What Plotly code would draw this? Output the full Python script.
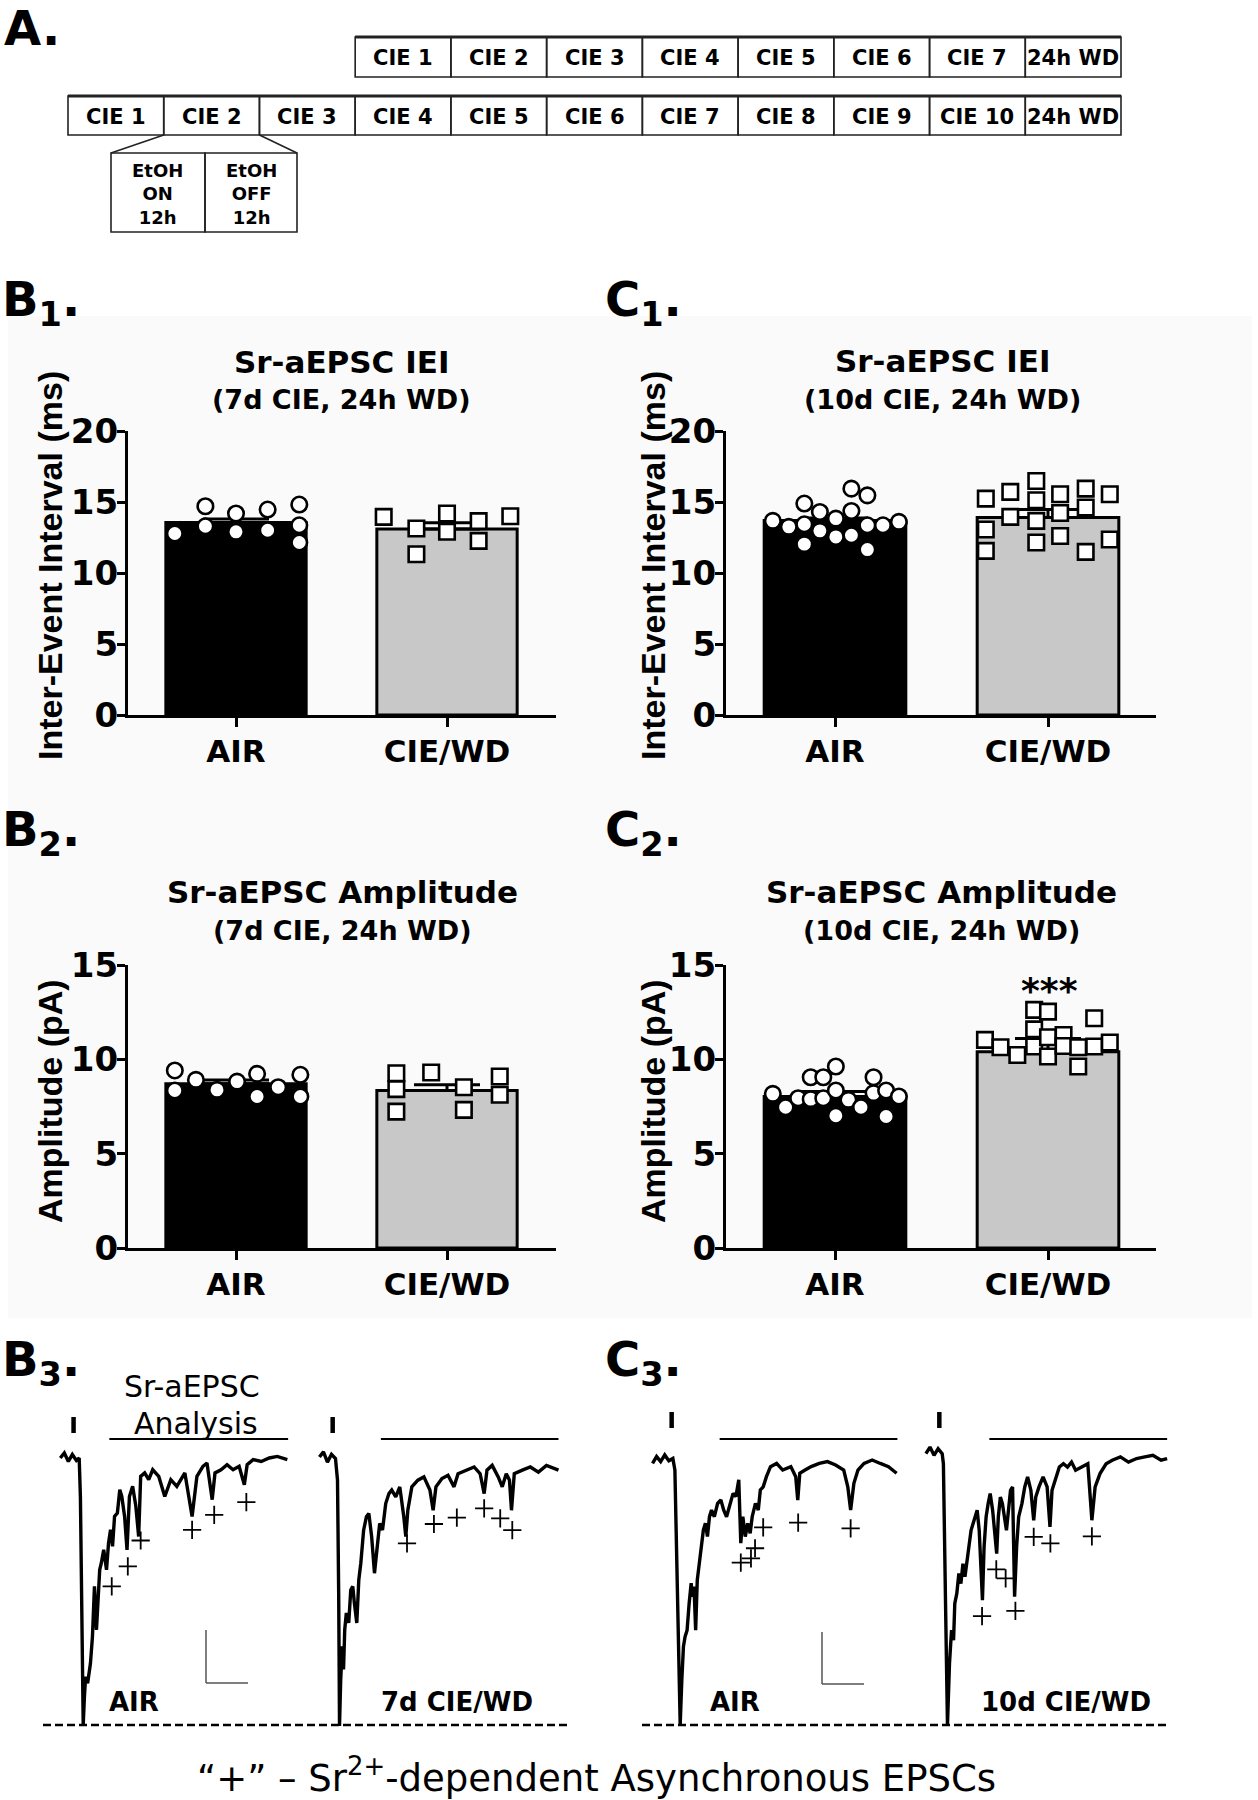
import plotly.graph_objects as go

W, H = 1258, 1800
FONT = "DejaVu Sans"
ARIAL = "Liberation Sans"

# ---------------- data ----------------
groups = ["AIR", "CIE/WD"]

timeline_7d = ["CIE 1", "CIE 2", "CIE 3", "CIE 4", "CIE 5", "CIE 6", "CIE 7", "24h WD"]
timeline_10d = ["CIE 1", "CIE 2", "CIE 3", "CIE 4", "CIE 5", "CIE 6", "CIE 7",
                "CIE 8", "CIE 9", "CIE 10", "24h WD"]
cycle_parts = ["EtOH<br>ON<br>12h", "EtOH<br>OFF<br>12h"]

# B1: IEI (ms), 7d CIE
b1_air = [12.78, 14.70, 13.29, 14.19, 12.90, 14.47, 13.01, 14.82, 13.36, 12.15]
b1_cie = [13.95, 13.13, 11.32, 14.19, 12.90, 13.65, 12.26, 14.00]
b1_mean = [13.55, 13.10]
b1_sem = [0.25, 0.44]

# C1: IEI (ms), 10d CIE
c1_air = [13.67, 13.25, 14.89, 13.43, 12.03, 14.30, 12.97, 13.83, 12.54,
          15.94, 14.37, 12.66, 15.47, 13.36, 11.65, 13.36, 13.60]
c1_cie = [15.24, 13.06, 11.56, 15.71, 13.95, 16.48, 15.12, 13.67, 12.15,
          15.55, 14.23, 12.61, 15.94, 14.61, 11.49, 15.55, 12.36]
c1_mean = [13.70, 13.90]
c1_sem = [0.18, 0.58]

# B2: amplitude (pA), 7d CIE
b2_air = [9.41, 8.35, 8.91, 8.38, 8.82, 9.23, 8.03, 8.52, 9.18, 8.03]
b2_cie = [9.26, 8.42, 7.23, 9.30, 8.52, 7.32, 9.09, 8.12]
b2_mean = [8.70, 8.35]
b2_sem = [0.21, 0.30]

# C2: amplitude (pA), 10d CIE
c2_air = [8.17, 7.46, 7.94, 9.05, 7.89, 9.05, 7.94, 9.62, 8.35, 7.01,
          7.85, 7.46, 9.05, 8.21, 8.35, 6.97, 8.03]
c2_cie = [11.03, 10.64, 10.23, 12.62, 11.59, 10.68, 12.53, 11.17, 10.15,
          11.29, 10.71, 10.64, 9.62, 12.18, 10.68, 10.89]
c2_mean = [8.03, 10.40]
c2_sem = [0.26, 0.70]

# horizontal scatter offsets of the individual points (positions, not values)
b1_air_dx = [-0.29, -0.145, -0.145, 0.0, 0.0, 0.15, 0.15, 0.30, 0.30, 0.30]
b1_cie_dx = [-0.30, -0.145, -0.145, 0.0, 0.0, 0.15, 0.15, 0.30]
c1_air_dx = [-0.292, -0.217, -0.144, -0.144, -0.144, -0.071, -0.071, 0.004, 0.004,
             0.077, 0.077, 0.077, 0.152, 0.152, 0.152, 0.225, 0.30]
c1_cie_dx = [-0.292, -0.292, -0.292, -0.177, -0.177, -0.055, -0.055, -0.055, -0.055,
             0.057, 0.057, 0.057, 0.177, 0.177, 0.177, 0.29, 0.29]
b2_air_dx = [-0.29, -0.29, -0.19, -0.09, 0.005, 0.10, 0.10, 0.20, 0.305, 0.305]
b2_cie_dx = [-0.24, -0.24, -0.24, -0.075, 0.08, 0.08, 0.25, 0.25]
c2_air_dx = [-0.292, -0.232, -0.173, -0.114, -0.114, -0.055, -0.055, 0.004, 0.004,
             0.004, 0.063, 0.122, 0.181, 0.181, 0.24, 0.24, 0.30]
c2_cie_dx = [-0.296, -0.223, -0.144, -0.065, -0.065, -0.065, 0.0, 0.0, 0.0,
             0.073, 0.073, 0.142, 0.142, 0.217, 0.217, 0.29]

# Example traces: time from stimulus (ms) and current (% of peak)
b3_air_t = [-50, -40, -30, -20, -10, -3, 0, 3, 5, 7, 10, 13, 18, 25, 30, 35, 40, 43, 48, 52,
            58, 65, 70, 75, 80, 85, 92, 98, 103, 110, 116, 122, 130, 138, 145, 150, 160,
            170, 180, 195, 210, 225, 240, 260, 278, 290, 305, 315, 328, 335, 350, 365,
            380, 395, 408, 415, 430, 450, 470, 490, 515]
b3_air_i = [0, 1.9, -1.3, 1.3, -0.9, 0, -14.4, -64.4, -91.9, -100, -89.4, -81.9, -84.4,
            -76.9, -66.9, -48.1, -64.4, -56.9, -41.9, -39.4, -34.4, -41.9, -31.9, -26.9,
            -33.1, -21.9, -20.6, -11.9, -14.4, -21.9, -34.4, -14.4, -10.6, -18.1, -29.4,
            -6.9, -5.6, -8.1, -4.4, -6.9, -14.4, -8.1, -10.6, -5.6, -21.9, -6.9, -3.1,
            -1.9, -15.6, -5.6, -4.4, -2.5, -4.4, -3.1, -10.0, -2.5, -0.6, -1.3, 0, 0.6, -0.6]
b3_cie_t = [-45, -35, -25, -15, -5, 0, 3, 5, 8, 12, 15, 18, 22, 28, 33, 38, 42, 48, 53, 58,
            65, 72, 78, 85, 92, 98, 105, 112, 120, 128, 135, 145, 155, 165, 170, 175, 185,
            200, 215, 230, 238, 245, 260, 275, 290, 300, 320, 340, 355, 365, 372, 385,
            400, 410, 420, 428, 433, 440, 460, 480, 500, 520, 550]
b3_cie_i = [0, 1.9, -1.9, 1.0, -0.6, -8.6, -51.9, -100, -82.7, -70.4, -79.0, -64.2, -58.0,
            -61.7, -49.4, -48.1, -54.3, -61.7, -45.7, -39.5, -27.2, -22.2, -21.0, -29.6,
            -43.2, -33.3, -24.7, -27.2, -17.3, -13.6, -12.3, -14.8, -11.1, -22.2, -29.6,
            -19.8, -11.1, -8.6, -7.4, -12.3, -19.8, -11.1, -8.0, -6.8, -11.1, -6.2, -4.9,
            -3.7, -6.2, -13.6, -4.9, -3.1, -7.4, -11.1, -6.2, -8.6, -19.8, -6.2, -4.9,
            -3.7, -5.6, -3.1, -4.9]
c3_air_t = [-55, -45, -35, -25, -15, -5, 0, 5, 10, 13, 17, 21, 25, 30, 35, 40, 43, 47, 51,
            55, 60, 65, 70, 75, 80, 85, 90, 97, 105, 113, 120, 127, 135, 143, 150, 157,
            162, 167, 173, 179, 185, 190, 198, 205, 210, 217, 225, 235, 250, 265, 285,
            297, 302, 307, 320, 335, 355, 375, 395, 415, 425, 432, 440, 450, 465, 485,
            505, 525, 545]
c3_air_i = [-1.3, 1.3, -0.6, 1.9, -0.3, 0.6, -3.8, -39.0, -83.0, -100, -83.0, -70.4, -66.7,
            -64.2, -54.1, -46.5, -51.6, -47.8, -64.2, -45.3, -39.0, -31.4, -26.4, -23.9,
            -28.9, -21.4, -18.9, -21.4, -16.4, -15.1, -18.9, -21.4, -16.4, -12.6, -13.8,
            -7.5, -31.4, -21.4, -28.9, -23.9, -27.7, -21.4, -16.4, -18.9, -11.3, -10.1,
            -6.3, -2.5, -1.3, -3.8, -2.5, -6.3, -15.1, -5.0, -3.8, -2.5, -1.3, -0.6, -1.9,
            -3.8, -10.1, -18.9, -8.8, -3.8, -1.3, 0, -1.3, -2.5, -5.0]
c3_cie_t = [-43, -33, -23, -13, -3, 0, 5, 10, 15, 20, 25, 28, 33, 38, 43, 48, 53, 58, 63,
            68, 73, 78, 83, 88, 93, 96, 100, 105, 110, 115, 121, 127, 131, 135, 140, 145,
            150, 155, 160, 165, 170, 175, 180, 185, 193, 200, 207, 215, 222, 227, 235,
            245, 255, 262, 267, 275, 285, 295, 305, 315, 325, 340, 355, 365, 373, 385,
            400, 415, 435, 455, 475, 495, 515, 535, 550]
c3_cie_i = [-0.6, 1.8, -1.2, 1.2, -0.6, -4.3, -53.0, -100, -77.4, -65.2, -68.9, -55.5,
            -51.8, -44.5, -48.2, -40.9, -45.7, -39.6, -33.5, -28.7, -26.2, -23.8, -21.3,
            -28.7, -43.3, -54.3, -34.8, -23.8, -18.9, -15.2, -21.3, -31.1, -37.2, -23.8,
            -16.5, -18.9, -23.8, -28.7, -21.3, -14.0, -12.8, -53.0, -34.8, -23.8, -18.9,
            -12.8, -9.1, -14.0, -25.0, -16.5, -12.8, -9.1, -12.8, -27.4, -14.0, -10.4,
            -5.5, -4.3, -5.5, -3.7, -6.7, -5.5, -4.3, -25.0, -12.8, -7.9, -4.3, -3.0,
            -1.8, -3.7, -2.4, -1.8, -1.2, -3.0, -2.4]

# "+" marks of detected asynchronous events (time, current)
b3_air_ev_t = [78, 118, 150, 278, 333, 413]
b3_air_ev_i = [-48.1, -40.6, -30.9, -26.9, -21.3, -16.5]
b3_cie_ev_t = [173, 240, 297, 365, 405, 435]
b3_cie_ev_i = [-32.1, -24.9, -22.5, -19.1, -22.8, -27.2]
c3_air_ev_t = [162, 187, 197, 217, 303, 432]
c3_air_ev_i = [-38.7, -37.1, -33.3, -25.4, -23.6, -25.8]
c3_cie_ev_t = [95, 130, 153, 177, 222, 263, 365]
c3_cie_ev_i = [-60.1, -43.0, -46.3, -58.2, -31.1, -33.5, -30.9]

# analysis windows (ms) and stimulus times (ms)
b3_air_win = [72, 517]
b3_cie_win = [108, 550]
c3_air_win = [110, 547]
c3_cie_win = [113, 550]
stim_marks = [-17, -12, -8, -10]


# ---------------- helpers ----------------
def fx(px):
    return px / W


def fy(py):
    return 1 - py / H


fig = go.Figure()
annotations = []
shapes = []

# faint panel background
shapes.append(dict(type="rect", xref="paper", yref="paper", x0=fx(8), x1=fx(1252),
                   y0=fy(1318), y1=fy(316), fillcolor="#fafafa", line=dict(width=0),
                   layer="below"))


def add_text(x, y, text, size, bold=True, xanchor="center", yanchor="middle",
             family=FONT, angle=0):
    annotations.append(dict(
        x=fx(x), y=fy(y), xref="paper", yref="paper", text=text, showarrow=False,
        xanchor=xanchor, yanchor=yanchor, textangle=angle,
        font=dict(family=family, size=size, color="black",
                  weight="bold" if bold else "normal")))


def bar_panel(idx, xl, xr, yb, yt, ymax, ytick, centers, vals_air, vals_cie,
              dx_air, dx_cie, means, sems):
    sx = "" if idx == 1 else str(idx)
    unit = centers[1] - centers[0]
    xrange = [-(centers[0] - xl) / unit, 1 + (xr - centers[1]) / unit]
    fig.add_trace(go.Bar(
        x=[0, 1], y=means, width=0.665,
        marker=dict(color=["black", "#c8c8c8"], line=dict(color="black", width=3)),
        error_y=dict(type="data", symmetric=False, array=sems, arrayminus=[0, 0],
                     color="black", thickness=3, width=33),
        xaxis="x" + sx, yaxis="y" + sx, showlegend=False, hoverinfo="skip"))
    fig.add_trace(go.Scatter(
        x=[0 + d for d in dx_air], y=vals_air, mode="markers",
        marker=dict(symbol="circle", size=15.5, color="white",
                    line=dict(color="black", width=2.6)),
        xaxis="x" + sx, yaxis="y" + sx, showlegend=False, cliponaxis=False))
    fig.add_trace(go.Scatter(
        x=[1 + d for d in dx_cie], y=vals_cie, mode="markers",
        marker=dict(symbol="square", size=15.5, color="white",
                    line=dict(color="black", width=2.6)),
        xaxis="x" + sx, yaxis="y" + sx, showlegend=False, cliponaxis=False))
    fig.layout["xaxis" + sx] = dict(
        domain=[fx(xl), fx(xr)], range=xrange, anchor="y" + sx,
        showline=True, linecolor="black", linewidth=3, mirror=False,
        ticks="outside", ticklen=9, tickwidth=3, tickcolor="black",
        tickvals=[0, 1], ticktext=groups, ticklabelstandoff=-2,
        tickfont=dict(family=FONT, size=31, color="black", weight="bold"),
        showgrid=False, zeroline=False, fixedrange=True)
    fig.layout["yaxis" + sx] = dict(
        domain=[fy(yb), fy(yt)], range=[0, ymax], anchor="x" + sx,
        showline=True, linecolor="black", linewidth=3,
        ticks="outside", ticklen=8, tickwidth=3, tickcolor="black",
        tickvals=list(range(0, ymax + 1, ytick)), ticklabelstandoff=-8,
        tickfont=dict(family=FONT, size=34, color="black", weight="bold"),
        showgrid=False, zeroline=False, fixedrange=True)


bar_panel(1, 128, 556, 715, 431, 20, 5, [236, 447], b1_air, b1_cie,
          b1_air_dx, b1_cie_dx, b1_mean, b1_sem)
bar_panel(2, 726, 1156, 715, 431, 20, 5, [835, 1048], c1_air, c1_cie,
          c1_air_dx, c1_cie_dx, c1_mean, c1_sem)
bar_panel(3, 128, 556, 1248, 965, 15, 5, [236, 447], b2_air, b2_cie,
          b2_air_dx, b2_cie_dx, b2_mean, b2_sem)
bar_panel(4, 726, 1156, 1248, 965, 15, 5, [835, 1048], c2_air, c2_cie,
          c2_air_dx, c2_cie_dx, c2_mean, c2_sem)

# titles
add_text(341, 362, "Sr-aEPSC IEI", 31)
add_text(341, 399, "(7d CIE, 24h WD)", 27)
add_text(942, 361, "Sr-aEPSC IEI", 31)
add_text(942, 399, "(10d CIE, 24h WD)", 27)
add_text(342, 892, "Sr-aEPSC Amplitude", 31)
add_text(342, 930, "(7d CIE, 24h WD)", 27)
add_text(941, 892, "Sr-aEPSC Amplitude", 31)
add_text(941, 930, "(10d CIE, 24h WD)", 27)
add_text(1049, 990, "***", 36)

# y titles
add_text(50, 566, "Inter-Event Interval (ms)", 34, family=ARIAL, angle=-90)
add_text(653, 566, "Inter-Event Interval (ms)", 34, family=ARIAL, angle=-90)
add_text(50, 1101, "Amplitude (pA)", 34, family=ARIAL, angle=-90)
add_text(653, 1101, "Amplitude (pA)", 34, family=ARIAL, angle=-90)

# panel labels
add_text(2, 28, "A.", 48, xanchor="left")
add_text(0, 302, "B<sub>1</sub>.", 48, xanchor="left")
add_text(603, 302, "C<sub>1</sub>.", 48, xanchor="left")
add_text(0, 832, "B<sub>2</sub>.", 48, xanchor="left")
add_text(603, 832, "C<sub>2</sub>.", 48, xanchor="left")
add_text(0, 1362, "B<sub>3</sub>.", 48, xanchor="left")
add_text(603, 1362, "C<sub>3</sub>.", 48, xanchor="left")

# ---------------- panel A : timeline ----------------
box_w = (1121 - 68) / 11
rows = [(timeline_7d, 1121 - 8 * box_w, 37, 77), (timeline_10d, 68, 96, 135)]
for labels, x0, y0, y1 in rows:
    for i, lab in enumerate(labels):
        bx0 = x0 + i * box_w
        shapes.append(dict(type="rect", xref="paper", yref="paper",
                           x0=fx(bx0), x1=fx(bx0 + box_w), y0=fy(y1), y1=fy(y0),
                           line=dict(color="#222", width=1.6)))
        add_text(bx0 + box_w / 2, (y0 + y1) / 2 + 1, lab, 21)
    shapes.append(dict(type="line", xref="paper", yref="paper",
                       x0=fx(x0), x1=fx(x0 + len(labels) * box_w), y0=fy(y0), y1=fy(y0),
                       line=dict(color="#222", width=3)))
# expanded cycle
sub_x = [111, 205, 297]
for i, lab in enumerate(cycle_parts):
    shapes.append(dict(type="rect", xref="paper", yref="paper",
                       x0=fx(sub_x[i]), x1=fx(sub_x[i + 1]), y0=fy(232), y1=fy(153),
                       line=dict(color="#222", width=1.6)))
    add_text((sub_x[i] + sub_x[i + 1]) / 2, 194, lab, 18)
shapes.append(dict(type="line", xref="paper", yref="paper", x0=fx(68 + box_w), y0=fy(135),
                   x1=fx(111), y1=fy(153), line=dict(color="#222", width=1.6)))
shapes.append(dict(type="line", xref="paper", yref="paper", x0=fx(68 + 2 * box_w), y0=fy(135),
                   x1=fx(297), y1=fy(153), line=dict(color="#222", width=1.6)))

# ---------------- panels B3 / C3 : traces ----------------
trace_specs = [
    # idx, stim px, px per ms, baseline px, peak px, t, i, ev_t, ev_i, window
    (5, 80.4, 0.4018, 1458, 1725, b3_air_t, b3_air_i, b3_air_ev_t, b3_air_ev_i, b3_air_win),
    (6, 337.5, 0.4018, 1457, 1726, b3_cie_t, b3_cie_i, b3_cie_ev_t, b3_cie_ev_i, b3_cie_win),
    (7, 674.9, 0.4068, 1460, 1725, c3_air_t, c3_air_i, c3_air_ev_t, c3_air_ev_i, c3_air_win),
    (8, 943.4, 0.4068, 1452, 1725, c3_cie_t, c3_cie_i, c3_cie_ev_t, c3_cie_ev_i, c3_cie_win),
]
for k, (idx, x0, s, base, peak, tt, ii, et, ei, win) in enumerate(trace_specs):
    sx = str(idx)
    amp = peak - base
    top_px, bot_px = 1420, 1745
    yr = [-(bot_px - base) / amp * 100, -(top_px - base) / amp * 100]
    fig.add_trace(go.Scatter(x=tt, y=ii, mode="lines",
                             line=dict(color="black", width=3.4),
                             xaxis="x" + sx, yaxis="y" + sx, showlegend=False,
                             cliponaxis=False))
    fig.add_trace(go.Scatter(x=et, y=ei, mode="markers",
                             marker=dict(symbol="cross-thin", size=13,
                                         line=dict(color="black", width=1.8)),
                             xaxis="x" + sx, yaxis="y" + sx, showlegend=False,
                             cliponaxis=False))
    fig.layout["xaxis" + sx] = dict(domain=[fx(x0 - 40), fx(x0 + 240)],
                                    range=[-40 / s, 240 / s], visible=False,
                                    anchor="y" + sx, fixedrange=True)
    fig.layout["yaxis" + sx] = dict(domain=[fy(bot_px), fy(top_px)], range=yr,
                                    visible=False, anchor="x" + sx, fixedrange=True)
    # analysis window bar
    shapes.append(dict(type="line", xref="x" + sx, yref="paper", x0=win[0], x1=win[1],
                       y0=fy(1439), y1=fy(1439), line=dict(color="black", width=2)))
    # stimulus mark
    sy = 1425 if idx < 7 else 1420
    shapes.append(dict(type="line", xref="x" + sx, yref="paper",
                       x0=stim_marks[k], x1=stim_marks[k], y0=fy(sy - 8), y1=fy(sy + 8),
                       line=dict(color="black", width=4.5)))

# peak reference dashed lines
shapes.append(dict(type="line", xref="paper", yref="y5", x0=fx(43), x1=fx(570), y0=-100,
                   y1=-100, line=dict(color="black", width=2.5, dash="8px,4px")))
shapes.append(dict(type="line", xref="paper", yref="y7", x0=fx(642), x1=fx(1170), y0=-100,
                   y1=-100, line=dict(color="black", width=2.5, dash="8px,4px")))

# scale bars
for (vx, vy0, vy1, hx1) in [(206, 1630, 1683, 248), (822, 1632, 1684, 864)]:
    shapes.append(dict(type="line", xref="paper", yref="paper", x0=fx(vx), x1=fx(vx),
                       y0=fy(vy0), y1=fy(vy1), line=dict(color="#555", width=1.5)))
    shapes.append(dict(type="line", xref="paper", yref="paper", x0=fx(vx), x1=fx(hx1),
                       y0=fy(vy1), y1=fy(vy1), line=dict(color="#555", width=1.5)))

add_text(192, 1386, "Sr-aEPSC", 30, bold=False)
add_text(196, 1423, "Analysis", 30, bold=False)
add_text(134, 1702, "AIR", 26)
add_text(457, 1702, "7d CIE/WD", 26)
add_text(735, 1702, "AIR", 26)
add_text(1066, 1702, "10d CIE/WD", 26)
add_text(596, 1775, "\u201c+\u201d \u2013 Sr<sup>2+</sup>-dependent Asynchronous EPSCs", 37,
         bold=False)

fig.update_layout(
    width=W, height=H, margin=dict(l=0, r=0, t=0, b=0, pad=0, autoexpand=False),
    paper_bgcolor="white", plot_bgcolor="rgba(0,0,0,0)",
    annotations=annotations, shapes=shapes, showlegend=False,
    font=dict(family=FONT, color="black"),
)
fig.write_html("out.html", config={"displayModeBar": False, "staticPlot": True},
               post_script="document.body.style.margin='0px';"
                           "document.body.style.overflow='hidden';")
